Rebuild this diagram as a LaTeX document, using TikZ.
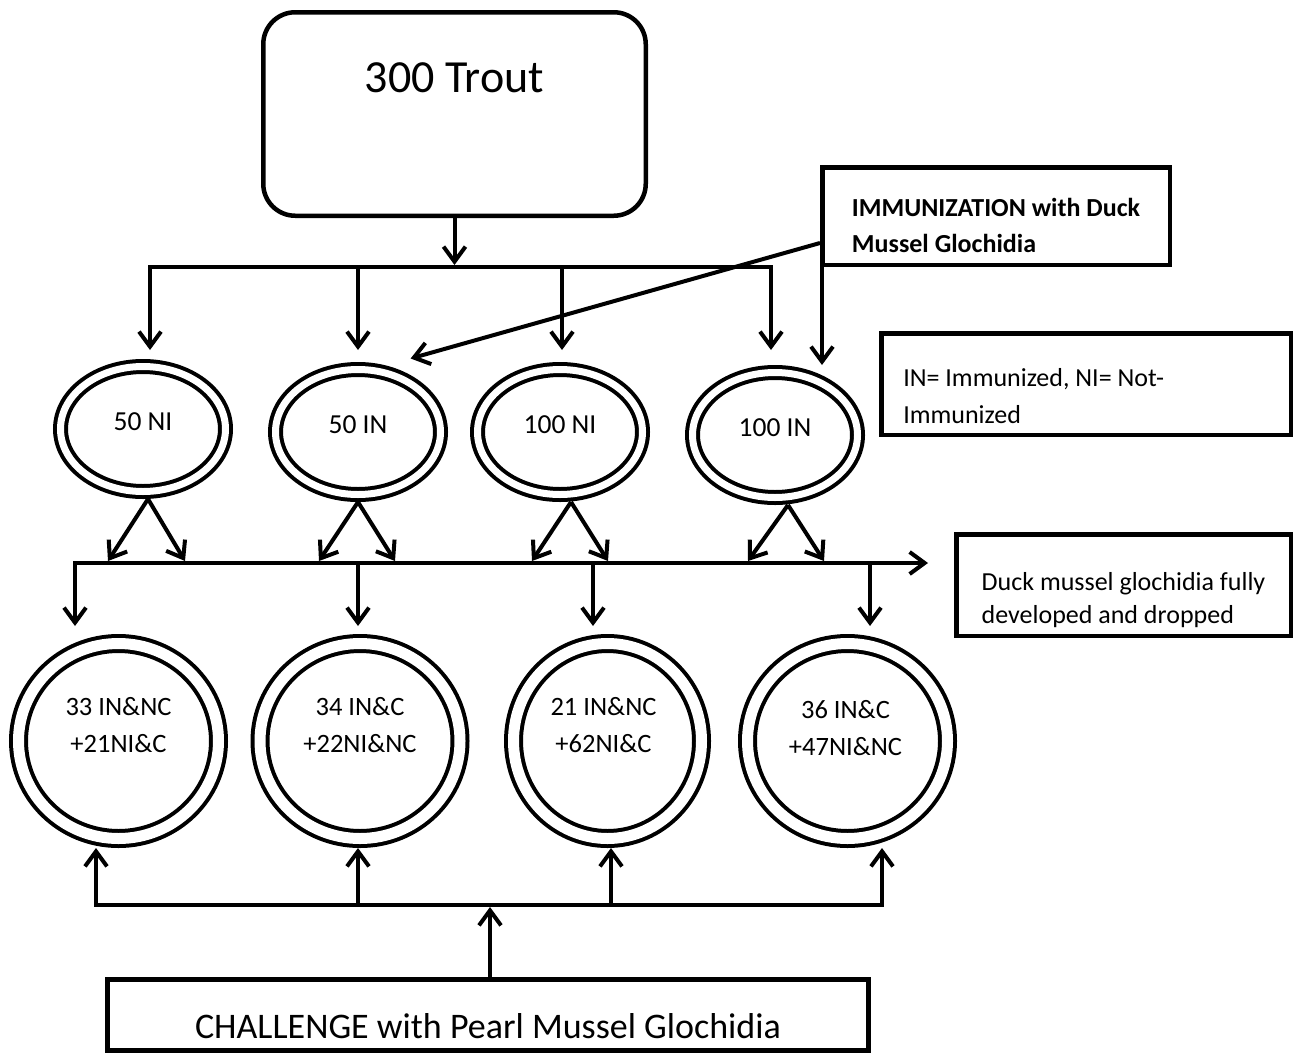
\documentclass[tikz,border=0pt]{standalone}
\usepackage{fontspec}
\setmainfont{Carlito}
\usetikzlibrary{shapes.geometric, arrows.meta, positioning, calc}

\begin{document}
\begin{tikzpicture}[
    x=1pt, y=-1pt,
    box/.style={draw, rectangle, line width=4.5pt, inner sep=0pt, font=\fontsize{26}{36}\selectfont},
    topbox/.style={box, rounded corners=32pt, font=\fontsize{46}{50}\selectfont},
    note/.style={box, align=flush left, minimum height=101.5pt},
    ring/.style={draw, ellipse, line width=4pt, double, double distance=7pt, outer sep=7.5pt, inner sep=0pt, minimum width=165pt, minimum height=125pt},
    bigring/.style={ring, double distance=11pt, outer sep=9.5pt, minimum width=200pt, minimum height=195pt},
    ringtext/.style={font=\fontsize{27.5}{33}\selectfont, anchor=center, yshift=7.5pt},
    tallytext/.style={font=\fontsize{26.5}{37}\selectfont, align=center, anchor=center, yshift=15.5pt},
    link/.style={line width=4pt, -{Straight Barb[length=15pt, width=22pt]}},
    bar/.style={line width=4pt}
  ]
  \useasboundingbox (0,0) rectangle (1295,1055);

  % Nodes
  \node[topbox, minimum width=382.5pt, text height=80pt, text depth=123.5pt] (trout) at (454.5,114) {300 Trout};
  \node[note, minimum width=347.5pt, minimum height=97.5pt, font=\bfseries\fontsize{26}{36}\selectfont] (immun) at (996,216)
    {\rule{0pt}{38pt}IMMUNIZATION with Duck\\Mussel Glochidia};
  \node[note, text width=365.5pt, inner xsep=22pt, font=\fontsize{26}{37}\selectfont] (key) at (1086,384)
    {\rule{0pt}{43pt}IN= Immunized, NI= Not-\\Immunized};
  \node[note, minimum width=334.5pt, font=\fontsize{26}{33}\selectfont] (duck) at (1123.5,585)
    {\rule{0pt}{48pt}Duck mussel glochidia fully\\developed and dropped};
  \node[box, minimum width=761pt, text height=58.5pt, text depth=12.5pt, font=\fontsize{36}{40}\selectfont] (challenge) at (488,1015)
    {CHALLENGE with Pearl Mussel Glochidia};

  \node[ring, label={[ringtext]center:50 NI}] (ni50) at (143,429) {};
  \node[ring, label={[ringtext]center:50 IN}] (in50) at (358,432) {};
  \node[ring, label={[ringtext]center:100 NI}] (ni100) at (560,432) {};
  \node[ring, label={[ringtext]center:100 IN}] (in100) at (775,435) {};

  \node[bigring, label={[tallytext]center:33 IN\&NC\\+21NI\&C}] (g1) at (118.5,741) {};
  \node[bigring, label={[tallytext]center:34 IN\&C\\+22NI\&NC}] (g2) at (360,741) {};
  \node[bigring, minimum width=188pt, label={[tallytext, xshift=-4pt]center:21 IN\&NC\\+62NI\&C}] (g3) at (607.5,741) {};
  \node[bigring, label={[tallytext, xshift=-2pt, yshift=-3pt]center:36 IN\&C\\+47NI\&NC}] (g4) at (847.5,741) {};

  \coordinate (split1) at (150,267);
  \coordinate (split2) at (358,267);
  \coordinate (split3) at (562,267);
  \coordinate (split4) at (771,267);
  \coordinate (toprow) at (0,350);
  \coordinate (midL) at (75,563);
  \coordinate (drop2) at (358,563);
  \coordinate (drop3) at (593,563);
  \coordinate (drop4) at (870,563);
  \coordinate (midtip) at (0,561);
  \coordinate (rowtwo) at (0,626);
  \coordinate (up1) at (96,905);
  \coordinate (up2) at (358,905);
  \coordinate (up3) at (611,905);
  \coordinate (up4) at (882,905);

  % Connections
  \draw[link, shorten >=2pt] (trout) -- (trout |- split1);
  \draw[bar] ([xshift=-2pt]split1) -- ([xshift=2pt]split4);
  \foreach \s in {split1, split2, split3, split4}
    \draw[link] (\s) -- (\s |- toprow);

  \draw[link] ([yshift=-27pt]immun.west) -- ([xshift=-11pt, yshift=24pt]in50.north east);
  \draw[link] ([xshift=2pt]immun.south west) -- ([xshift=2pt]immun.south west |- in100.north);

  \foreach \nm/\ax/\lx/\rx in {ni50/5/-35/42, in50/0/-39/37, ni100/11/-28/48, in100/13/-27/49} {
    \draw[link] ([xshift=\ax pt]\nm.south) -- ([xshift=\lx pt]\nm.south |- midtip);
    \draw[link] ([xshift=\ax pt]\nm.south) -- ([xshift=\rx pt]\nm.south |- midtip);
  }
  \draw[link, shorten >=26pt] ([xshift=-2pt]midL) -- (midL -| duck.west);
  \foreach \d in {midL, drop2, drop3, drop4}
    \draw[link] (\d) -- (\d |- rowtwo);

  \draw[bar] ([xshift=-2pt]up1) -- ([xshift=2pt]up4);
  \foreach \u/\g in {up1/g1, up2/g2, up3/g3, up4/g4}
    \draw[link] (\u) -- (\u |- \g.south);
  \draw[link, shorten >=2pt] ([xshift=2pt]challenge.north) -- ([xshift=2pt]challenge.north |- up1);
\end{tikzpicture}
\end{document}
